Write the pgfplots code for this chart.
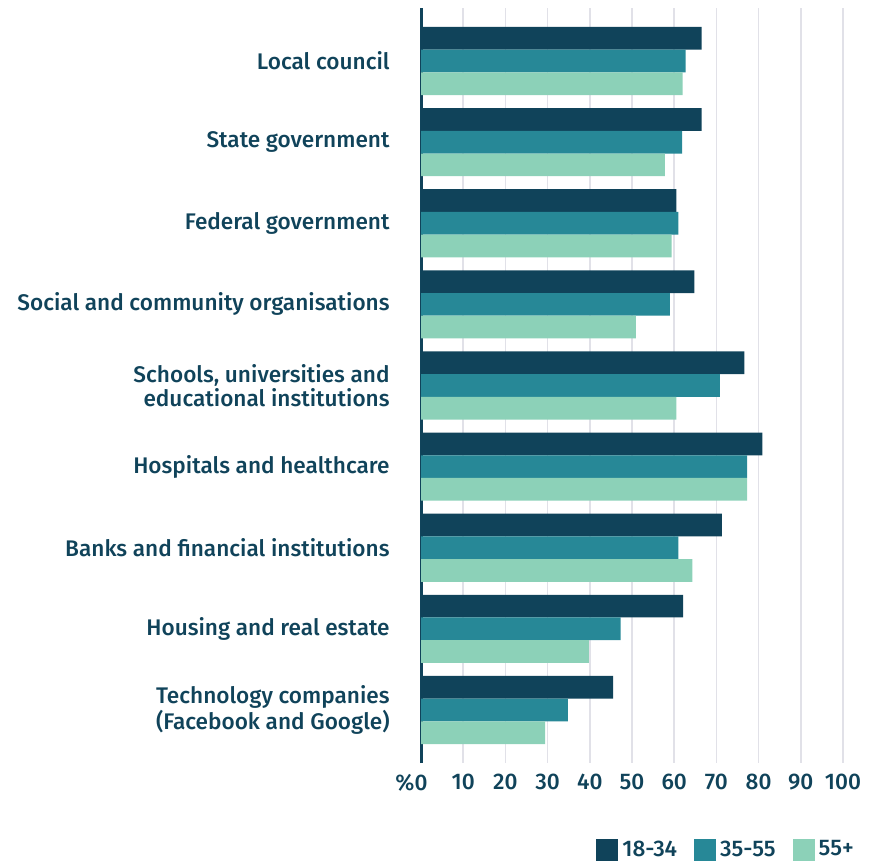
\documentclass[border=0pt]{standalone}
\usepackage{pgfplots}
\usepackage{pgfplotstable}
\pgfplotsset{compat=1.18}
\usepackage{fontspec}
\setmainfont{Fira Sans}[UprightFont={* Medium}]

\definecolor{cdark}{HTML}{10435A}
\definecolor{cteal}{HTML}{278897}
\definecolor{clight}{HTML}{8CD1B8}
\definecolor{cgrid}{HTML}{E1E1E8}

% trust by institution type, share in %, y = row position (top row = 8)
\pgfplotstableread{
y  a    b    c
8  66.5 62.7 62.0
7  66.5 61.9 57.8
6  60.5 61.0 59.4
5  64.8 59.0 50.9
4  76.6 70.8 60.5
3  80.9 77.3 77.3
2  71.3 61.0 64.3
1  62.1 47.3 39.8
0  45.5 34.8 29.4
}\trust

\begin{document}
\begin{tikzpicture}
\begin{axis}[
    at={(210.5pt,-381.5pt)}, anchor=south west,
    scale only axis, width=211pt, height=377.5pt,
    xbar, bar width=0.28,
    xmin=0, xmax=100, ymin=-0.654, ymax=8.654,
    xtick={0,10,...,100},
    xticklabels={\llap{\%}0,10,20,30,40,50,60,70,80,90,100},
    ytick={0,...,8},
    yticklabels={
        {Technology companies\\(Facebook and Google)},
        {Housing and real estate},
        {Banks and financial institutions},
        {Hospitals and healthcare},
        {Schools, universities and\\educational institutions},
        {Social and community organisations},
        {Federal government},
        {State government},
        {Local council}
    },
    major tick length=0pt,
    xmajorgrids, grid style={cgrid, line width=0.75pt},
    axis x line*=bottom, axis y line*=left,
    x axis line style={draw=none},
    y axis line style={cdark, line width=1.5pt},
    tick label style={text=cdark, font=\fontsize{11.3}{12}\selectfont},
    yticklabel style={align=right, inner sep=0pt, xshift=-15.5pt},
    xticklabel style={inner sep=0pt, yshift=-5.5pt},
    legend style={at={(1.036,-0.115)}, anchor=east, draw=none, inner sep=0pt,
        text=cdark, font=\fontsize{11.3}{12}\selectfont,
        /tikz/every even column/.style={column sep=6.5pt}},
    legend columns=3,
    legend cell align=left,
    legend image code/.code={\draw[#1, draw=none] (0pt,-5.5pt) rectangle (11pt,5.5pt);},
]
\addplot[fill=cdark, draw=none, bar shift=0.28] table[x=a, y=y] {\trust};
\addplot[fill=cteal, draw=none, bar shift=0] table[x=b, y=y] {\trust};
\addplot[fill=clight, draw=none, bar shift=-0.28] table[x=c, y=y] {\trust};
\legend{18-34, 35-55, 55+}
\end{axis}
\pgfresetboundingbox
\path (0,0) rectangle (436pt,-430.5pt);
\end{tikzpicture}
\end{document}
